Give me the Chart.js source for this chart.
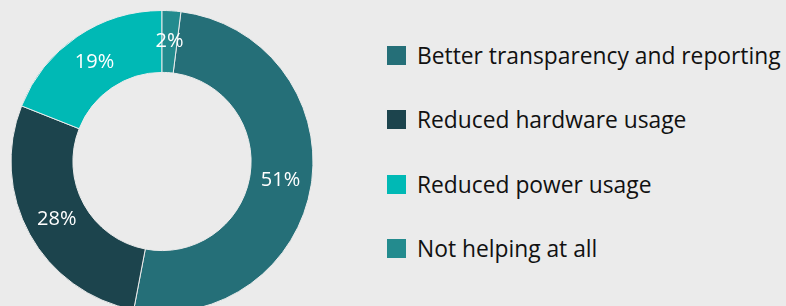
<!DOCTYPE html>
<html>
<head>
<meta charset="utf-8">
<script src="https://cdn.jsdelivr.net/npm/chart.js@4/dist/chart.umd.min.js"></script>
<style>
    html, body {
        margin: 0;
        padding: 0;
        width: 786px;
        height: 306px;
        overflow: hidden;
        background: #ebebeb;
    }
    #chartWrap {
        position: absolute;
        left: 0;
        top: 0;
    }
    .legend {
        position: absolute;
        left: 387px;
        top: 0;
        font-family: "Open Sans", sans-serif;
        font-size: 22.8px;
        color: #111;
    }
    .legend-item {
        position: absolute;
        left: 0;
        height: 30px;
        display: flex;
        align-items: center;
        white-space: nowrap;
    }
    .legend-box {
        width: 19px;
        height: 19px;
        margin-right: 11px;
    }
</style>
</head>
<body>
<div id="chartWrap"><canvas id="donut" width="324" height="323"></canvas></div>
<div class="legend" id="legend"></div>
<script>
// Chart data
const categories = ['Better transparency and reporting', 'Reduced hardware usage', 'Reduced power usage', 'Not helping at all'];
const shares = [51, 28, 19, 2];
const sliceColors = ['#256f78', '#1c444d', '#00b9b5', '#238b8e'];

// Percent labels drawn on each slice
const sliceLabels = {
    id: 'sliceLabels',
    afterDatasetsDraw(chart) {
        const ctx = chart.ctx;
        const meta = chart.getDatasetMeta(0);
        ctx.save();
        ctx.font = '20px "Open Sans", sans-serif';
        ctx.fillStyle = '#ffffff';
        ctx.textAlign = 'center';
        ctx.textBaseline = 'middle';
        meta.data.forEach((arc, i) => {
            const pos = arc.tooltipPosition();
            ctx.fillText(shares[i] + '%', pos.x, pos.y);
        });
        ctx.restore();
    }
};

new Chart(document.getElementById('donut').getContext('2d'), {
    type: 'doughnut',
    data: {
        labels: categories,
        datasets: [{
            data: shares,
            backgroundColor: sliceColors,
            borderColor: '#ebebeb',
            borderWidth: 1,
            hoverOffset: 0
        }]
    },
    options: {
        responsive: false,
        animation: false,
        cutout: '59%',
        rotation: 7.2,
        layout: {
            padding: { left: 10, right: 10, top: 10, bottom: 10 }
        },
        plugins: {
            legend: { display: false },
            tooltip: { enabled: false }
        }
    },
    plugins: [sliceLabels]
});

// Legend
const legend = document.getElementById('legend');
categories.forEach((name, i) => {
    const item = document.createElement('div');
    item.className = 'legend-item';
    item.style.top = (55 + i * 64.5 - 15) + 'px';
    item.innerHTML = `<div class="legend-box" style="background:${sliceColors[i]}"></div><span>${name}</span>`;
    legend.appendChild(item);
});
</script>
</body>
</html>
